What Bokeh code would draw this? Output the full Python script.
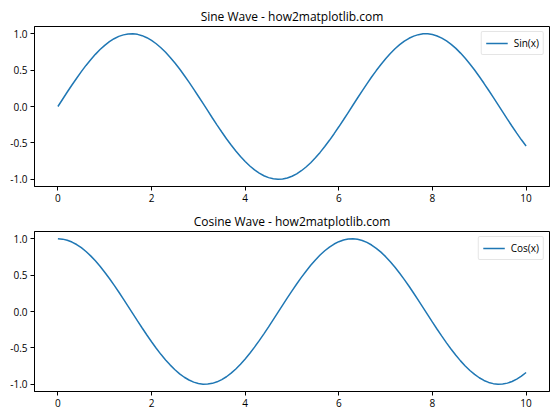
from bokeh.plotting import figure
from bokeh.layouts import column
from bokeh.models import Range1d, FixedTicker, PrintfTickFormatter, Legend, LegendItem
from bokeh.embed import file_html
from bokeh.resources import INLINE

# ---- data ----
x_values = [0.0, 0.1, 0.2, 0.3, 0.4, 0.5, 0.6, 0.7, 0.8, 0.9,
            1.0, 1.1, 1.2, 1.3, 1.4, 1.5, 1.6, 1.7, 1.8, 1.9,
            2.0, 2.1, 2.2, 2.3, 2.4, 2.5, 2.6, 2.7, 2.8, 2.9,
            3.0, 3.1, 3.2, 3.3, 3.4, 3.5, 3.6, 3.7, 3.8, 3.9,
            4.0, 4.1, 4.2, 4.3, 4.4, 4.5, 4.6, 4.7, 4.8, 4.9,
            5.0, 5.1, 5.2, 5.3, 5.4, 5.5, 5.6, 5.7, 5.8, 5.9,
            6.0, 6.1, 6.2, 6.3, 6.4, 6.5, 6.6, 6.7, 6.8, 6.9,
            7.0, 7.1, 7.2, 7.3, 7.4, 7.5, 7.6, 7.7, 7.8, 7.9,
            8.0, 8.1, 8.2, 8.3, 8.4, 8.5, 8.6, 8.7, 8.8, 8.9,
            9.0, 9.1, 9.2, 9.3, 9.4, 9.5, 9.6, 9.7, 9.8, 9.9, 10.0]

sin_values = [0.000, 0.100, 0.199, 0.296, 0.389, 0.479, 0.565, 0.644, 0.717, 0.783,
              0.841, 0.891, 0.932, 0.964, 0.985, 0.997, 1.000, 0.992, 0.974, 0.946,
              0.909, 0.863, 0.808, 0.746, 0.675, 0.598, 0.516, 0.427, 0.335, 0.239,
              0.141, 0.042, -0.058, -0.158, -0.256, -0.351, -0.443, -0.530, -0.612, -0.688,
              -0.757, -0.818, -0.872, -0.916, -0.952, -0.978, -0.994, -1.000, -0.996, -0.983,
              -0.959, -0.926, -0.883, -0.832, -0.773, -0.706, -0.631, -0.551, -0.465, -0.374,
              -0.279, -0.182, -0.083, 0.017, 0.117, 0.215, 0.312, 0.405, 0.494, 0.578,
              0.657, 0.729, 0.794, 0.850, 0.899, 0.938, 0.968, 0.988, 0.999, 0.999,
              0.989, 0.970, 0.941, 0.902, 0.855, 0.799, 0.734, 0.663, 0.585, 0.501,
              0.412, 0.319, 0.223, 0.125, 0.025, -0.075, -0.174, -0.272, -0.366, -0.458, -0.544]

cos_values = [1.000, 0.995, 0.980, 0.955, 0.921, 0.878, 0.825, 0.765, 0.697, 0.622,
              0.540, 0.454, 0.362, 0.268, 0.170, 0.071, -0.029, -0.129, -0.227, -0.323,
              -0.416, -0.505, -0.589, -0.666, -0.737, -0.801, -0.857, -0.904, -0.942, -0.971,
              -0.990, -0.999, -0.998, -0.988, -0.967, -0.936, -0.897, -0.848, -0.791, -0.726,
              -0.654, -0.575, -0.490, -0.401, -0.307, -0.211, -0.112, -0.012, 0.087, 0.187,
              0.284, 0.378, 0.469, 0.554, 0.635, 0.709, 0.776, 0.835, 0.886, 0.928,
              0.960, 0.983, 0.997, 1.000, 0.993, 0.977, 0.950, 0.914, 0.869, 0.816,
              0.754, 0.685, 0.608, 0.526, 0.439, 0.347, 0.251, 0.153, 0.054, -0.046,
              -0.146, -0.244, -0.339, -0.431, -0.519, -0.602, -0.679, -0.749, -0.811, -0.865,
              -0.911, -0.948, -0.975, -0.992, -1.000, -0.997, -0.985, -0.962, -0.930, -0.889, -0.839]

x_ticks = [0, 2, 4, 6, 8, 10]
y_ticks = [-1.0, -0.5, 0.0, 0.5, 1.0]

titles = ["Sine Wave - how2matplotlib.com", "Cosine Wave - how2matplotlib.com"]
labels = ["Sin(x)", "Cos(x)"]

FONT = "Open Sans"
LINE_COLOR = "#1f77b4"


def make_panel(title, yvals, label, border_top, border_bottom):
    p = figure(frame_width=515, frame_height=160,
               min_border_left=34, min_border_right=2,
               min_border_top=border_top, min_border_bottom=border_bottom,
               x_range=Range1d(-0.5, 10.5), y_range=Range1d(-1.1, 1.1),
               output_backend="svg", toolbar_location=None,
               title=title)
    p.title.align = "center"
    p.title.text_font = FONT
    p.title.text_font_size = "12px"
    p.title.text_font_style = "normal"
    p.title.text_color = "black"
    p.title.standoff = 3
    p.title.offset = 0

    p.xgrid.visible = False
    p.ygrid.visible = False
    p.outline_line_color = "black"
    p.outline_line_alpha = 1.0
    p.outline_line_width = 1

    for ax in (p.xaxis[0], p.yaxis[0]):
        ax.axis_line_color = "black"
        ax.major_tick_line_color = "black"
        ax.major_tick_out = 4
        ax.major_tick_in = 0
        ax.minor_tick_line_color = None
        ax.major_label_text_font = FONT
        ax.major_label_text_font_size = "10px"
        ax.major_label_text_color = "black"
        ax.major_label_standoff = 3

    p.xaxis.ticker = FixedTicker(ticks=x_ticks)
    p.yaxis.ticker = FixedTicker(ticks=y_ticks)
    p.yaxis.formatter = PrintfTickFormatter(format="%.1f")

    r = p.line(x_values, yvals, line_color=LINE_COLOR, line_width=1.5)

    legend = Legend(items=[LegendItem(label=label, renderers=[r])],
                    location="top_right")
    legend.label_text_font = FONT
    legend.label_text_font_size = "10px"
    legend.label_text_color = "black"
    legend.border_line_color = "#cccccc"
    legend.border_line_width = 1
    legend.background_fill_alpha = 0.8
    legend.margin = 5
    legend.padding = 4
    legend.spacing = 0
    legend.glyph_width = 22
    legend.glyph_height = 10
    legend.label_height = 10
    legend.label_standoff = 6
    legend.border_radius = 2
    p.add_layout(legend, "center")
    return p


p1 = make_panel(titles[0], sin_values, labels[0], 26, 23)
p2 = make_panel(titles[1], cos_values, labels[1], 21, 20)

layout = column(p1, p2, spacing=0)

open("out.html", "w").write(file_html(layout, INLINE))
